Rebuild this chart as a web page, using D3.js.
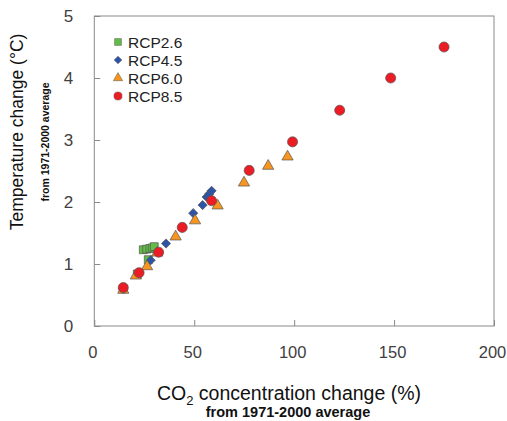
<!DOCTYPE html>
<html>
<head>
<meta charset="utf-8">
<script src="https://cdn.jsdelivr.net/npm/d3@7"></script>
<style>
  body { margin: 0; background: #fff; }
  text { font-family: "Liberation Sans", Arial, sans-serif; }
</style>
</head>
<body>
<div id="chart"></div>
<script>
// values: [CO2 change %, temperature change °C]
const rcp26 = [[14.5, 0.6], [21.5, 0.84], [27, 1.07], [24.5, 1.23], [26.2, 1.24], [27.8, 1.25], [29, 1.26], [30, 1.28]];
const rcp45 = [[14.5, 0.6], [22, 0.85], [28.2, 1.06], [35.9, 1.33], [49.5, 1.82], [54.2, 1.95], [56.2, 2.08], [57.5, 2.13], [58.7, 2.18]];
const rcp60 = [[14.5, 0.58], [20.8, 0.81], [26.4, 0.96], [31.5, 1.18], [40.7, 1.44], [50.4, 1.7], [61.7, 1.94], [74.9, 2.31], [87, 2.58], [96.7, 2.73]];
const rcp85 = [[14.5, 0.62], [22.4, 0.86], [32.2, 1.19], [44, 1.59], [58.7, 2.02], [77.5, 2.51], [99.2, 2.97], [122.8, 3.48], [148.3, 4.0], [175, 4.5]];
const seriesNames = ["RCP2.6", "RCP4.5", "RCP6.0", "RCP8.5"];
const xTicks = [0, 50, 100, 150, 200];
const yTicks = [0, 1, 2, 3, 4, 5];

const margin = { top: 16, right: 13, bottom: 95, left: 94.3 },
  width = 507 - margin.left - margin.right,
  height = 421 - margin.top - margin.bottom;

const svgRoot = d3.select("#chart")
  .append("svg")
  .attr("width", 507)
  .attr("height", 421);

const svg = svgRoot.append("g")
  .attr("transform", `translate(${margin.left},${margin.top})`);

const x = d3.scaleLinear().domain([0, 200]).range([0, width]);
const y = d3.scaleLinear().domain([0, 5]).range([height, 0]);

const series = [
  { name: seriesNames[0], data: rcp26, type: d3.symbolSquare, size: 62, legendSize: 46, rotate: 0, fill: "#62bd46" },
  { name: seriesNames[1], data: rcp45, type: d3.symbolSquare, size: 42, legendSize: 30, rotate: 45, fill: "#2c55a6" },
  { name: seriesNames[2], data: rcp60, type: d3.symbolTriangle, size: 55, legendSize: 38, rotate: 0, fill: "#f7951f" },
  { name: seriesNames[3], data: rcp85, type: d3.symbolCircle, size: 80, legendSize: 52, rotate: 0, fill: "#ec1c24" }
];

// frame
svg.append("rect")
  .attr("width", width)
  .attr("height", height)
  .style("fill", "none")
  .style("stroke", "#8a8a8a")
  .style("stroke-width", 1);

// inward ticks
svg.append("g")
  .attr("transform", `translate(0,${height})`)
  .call(d3.axisBottom(x).tickValues(xTicks).tickSizeInner(-6).tickSizeOuter(0).tickFormat(d3.format("d")))
  .call(g => g.select(".domain").remove())
  .call(g => g.selectAll("line").style("stroke", "#8a8a8a"))
  .call(g => g.selectAll("text").attr("y", 20).attr("dx", -2).style("font-size", "16.5px").style("fill", "#404040"));

svg.append("g")
  .call(d3.axisLeft(y).tickValues(yTicks).tickSizeInner(-6).tickSizeOuter(0).tickFormat(d3.format("d")))
  .call(g => g.select(".domain").remove())
  .call(g => g.selectAll("line").style("stroke", "#8a8a8a"))
  .call(g => g.selectAll("text").attr("x", -21).style("font-size", "17px").style("fill", "#404040"));

// points
series.forEach(s => {
  svg.append("g")
    .selectAll("path")
    .data(s.data)
    .join("path")
    .attr("d", d3.symbol().type(s.type).size(s.size))
    .attr("transform", d => `translate(${x(d[0])},${y(d[1])}) rotate(${s.rotate})`)
    .style("fill", s.fill)
    .style("stroke", "#555")
    .style("stroke-width", 0.7);
});

// legend
const legend = svgRoot.append("g").attr("transform", "translate(118,42)");
series.forEach((s, i) => {
  const row = legend.append("g").attr("transform", `translate(0,${i * 18})`);
  row.append("path")
    .attr("d", d3.symbol().type(s.type).size(s.legendSize))
    .attr("transform", `rotate(${s.rotate})`)
    .style("fill", s.fill)
    .style("stroke", "#555")
    .style("stroke-width", 0.5);
  row.append("text")
    .attr("x", 10)
    .attr("y", 5.5)
    .style("font-size", "15.5px")
    .style("fill", "#222")
    .text(s.name);
});

// axis titles
const xTitle = svgRoot.append("text")
  .attr("x", 289)
  .attr("y", 400)
  .attr("text-anchor", "middle")
  .style("font-size", "19.5px")
  .style("fill", "#111");
xTitle.append("tspan").text("CO");
xTitle.append("tspan").attr("dy", 5).style("font-size", "13px").text("2");
xTitle.append("tspan").attr("dy", -5).text(" concentration change (%)");

svgRoot.append("text")
  .attr("x", 288)
  .attr("y", 417)
  .attr("text-anchor", "middle")
  .style("font-size", "14.5px")
  .style("font-weight", "bold")
  .style("fill", "#111")
  .text("from 1971-2000 average");

svgRoot.append("text")
  .attr("transform", "translate(23,132) rotate(-90)")
  .attr("text-anchor", "middle")
  .style("font-size", "17.5px")
  .style("fill", "#111")
  .text("Temperature change (°C)");

svgRoot.append("text")
  .attr("transform", "translate(49,142) rotate(-90)")
  .attr("text-anchor", "middle")
  .style("font-size", "10.5px")
  .style("font-weight", "bold")
  .style("fill", "#111")
  .text("from 1971-2000 average");
</script>
</body>
</html>
